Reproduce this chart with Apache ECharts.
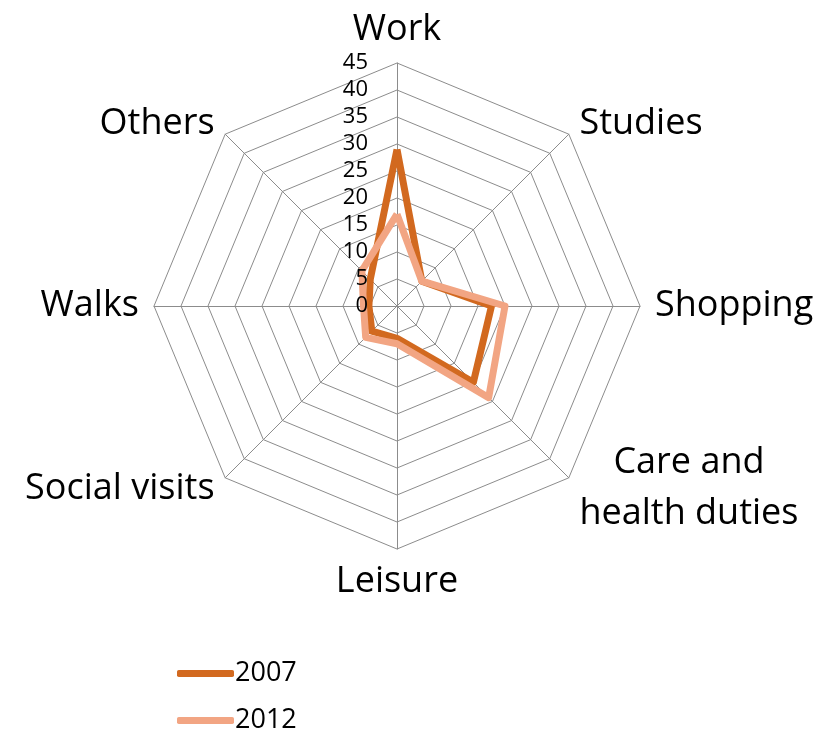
<!DOCTYPE html>
<html>
<head>
<meta charset="utf-8">
<script src="https://cdn.jsdelivr.net/npm/echarts@6/dist/echarts.min.js"></script>
<style>
html,body{margin:0;padding:0;background:#fff;}
#chart{width:820px;height:733px;}
</style>
</head>
<body>
<div id="chart"></div>
<script>
// Categories in clockwise order starting at the top
const categories = ['Work', 'Studies', 'Shopping', 'Care and health duties', 'Leisure', 'Social visits', 'Walks', 'Others'];
const values2007 = [29, 6.5, 17.5, 20, 6, 6.6, 5.2, 7];
const values2012 = [17, 6.5, 20, 24, 7, 8.2, 6.2, 9.2];
const seriesNames = ['2007', '2012'];
const seriesColors = ['#d2691f', '#f2a583'];
const axisMin = 0;
const axisMax = 45;
const axisStep = 5;

// ECharts lays radar indicators out counter-clockwise; reorder for clockwise display
function toCCW(arr) { return [arr[0]].concat(arr.slice(1).reverse()); }
const catCCW = toCCW(categories);

const chart = echarts.init(document.getElementById('chart'));
const fontFam = '"Open Sans", sans-serif';
function legendFor(i, top) {
  return {
    orient: 'vertical',
    left: 172,
    top: top,
    itemWidth: 57,
    itemHeight: 7,
    icon: 'roundRect',
    selectedMode: false,
    textStyle: { fontFamily: fontFam, fontSize: 27, color: '#000', padding: [0, 0, 0, -4] },
    data: [seriesNames[i]]
  };
}
const radarBase = {
  center: [397, 306],
  radius: 243,
  startAngle: 90,
  shape: 'polygon',
  splitNumber: (axisMax - axisMin) / axisStep,
  splitArea: { show: false },
  axisTick: { show: false },
  axisLabel: { show: false }
};
const option = {
  animation: false,
  backgroundColor: '#ffffff',
  legend: [legendFor(0, 655), legendFor(1, 702)],
  radar: [
    Object.assign({}, radarBase, {
      nameGap: 15,
      axisName: {
        color: '#000',
        fontFamily: fontFam,
        fontSize: 36,
        formatter: function (name) {
          if (name === 'Care and health duties') return '{c|Care and}\n{c|health duties}';
          return name;
        },
        rich: {
          c: { align: 'center', fontFamily: fontFam, fontSize: 36, lineHeight: 51, color: '#000' }
        }
      },
      axisLine: { lineStyle: { color: '#8c8c8c', width: 1 } },
      splitLine: { lineStyle: { color: '#8c8c8c', width: 1 } },
      indicator: catCCW.map(function (c) { return { name: c, min: axisMin, max: axisMax }; })
    }),
    // overlay radar carrying only the value labels, drawn above the series
    Object.assign({}, radarBase, {
      z: 10,
      axisName: { show: false },
      axisLine: { show: false },
      splitLine: { show: false },
      indicator: catCCW.map(function (c, i) {
        const ind = { name: c, min: axisMin, max: axisMax };
        if (i === 0) {
          ind.axisLabel = { show: true, color: '#000', fontFamily: fontFam, fontSize: 22, margin: 29, showMinLabel: true, showMaxLabel: true };
        }
        return ind;
      })
    })
  ],
  series: [{
    type: 'radar',
    radarIndex: 0,
    symbol: 'none',
    data: [
      {
        name: seriesNames[0],
        value: toCCW(values2007),
        lineStyle: { color: seriesColors[0], width: 7 },
        itemStyle: { color: seriesColors[0] }
      },
      {
        name: seriesNames[1],
        value: toCCW(values2012),
        lineStyle: { color: seriesColors[1], width: 7 },
        itemStyle: { color: seriesColors[1] }
      }
    ]
  }]
};
chart.setOption(option);
</script>
</body>
</html>
